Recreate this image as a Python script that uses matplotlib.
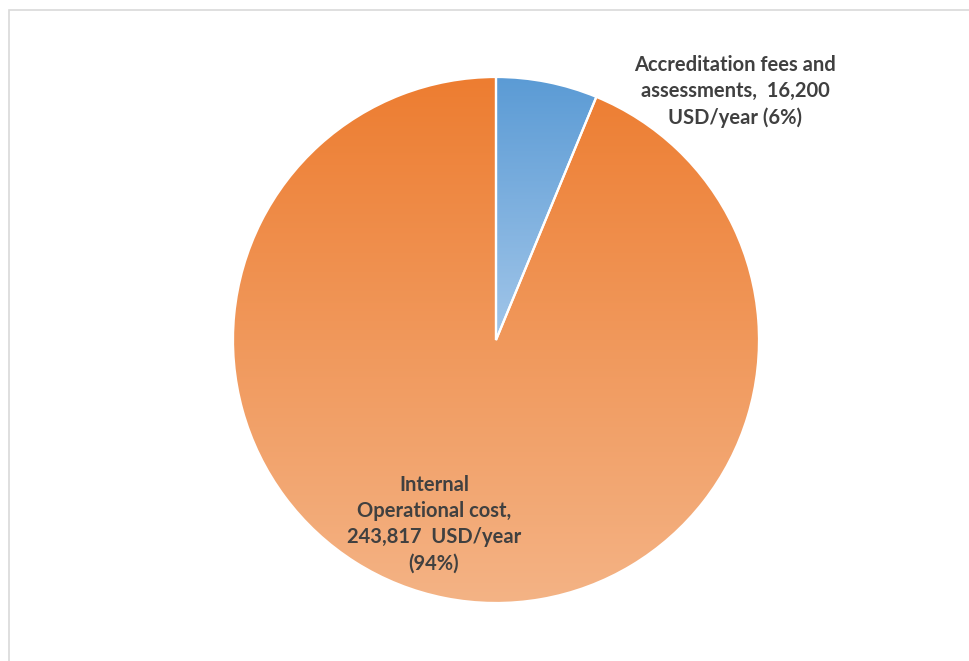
import numpy as np
import matplotlib
matplotlib.use("Agg")
import matplotlib.pyplot as plt
from matplotlib.colors import LinearSegmentedColormap
from matplotlib.patches import Rectangle

# Data
categories = ["Accreditation fees and\nassessments,  16,200\nUSD/year (6%)",
              "Internal\nOperational cost,\n243,817  USD/year\n(94%)"]
values = [16200, 243817]
# gradient colours: top -> bottom
grad_colors = [("#5B9BD5", "#A2C6E9"), ("#ED7D31", "#F4B385")]

plt.rcParams['font.family'] = ['Lato', 'DejaVu Sans']

W, H = 969, 661
fig = plt.figure(figsize=(W / 100, H / 100), dpi=100)
ax = fig.add_axes([0, 0, 1, 1])

wedges, _ = ax.pie(values, startangle=90, counterclock=False,
                   wedgeprops=dict(edgecolor="white", linewidth=1.6))

# vertical gradient inside every slice
grad = np.linspace(0, 1, 256).reshape(-1, 1)
for w, (c_top, c_bot) in zip(wedges, grad_colors):
    ext = w.get_path().get_extents()
    cmap = LinearSegmentedColormap.from_list("g", [c_top, c_bot])
    im = ax.imshow(grad, cmap=cmap, aspect="auto", origin="upper",
                   extent=[ext.x0, ext.x1, ext.y0, ext.y1], zorder=1)
    im.set_clip_path(w)
    w.set_facecolor("none")
    w.set_zorder(2)

# map the unit pie to pixel layout (center 496,340, radius 263)
cx, cy, r = 496, 340, 263
ax.set_xlim(-cx / r, (W - cx) / r)
ax.set_ylim(-(H - cy) / r, cy / r)
ax.set_aspect("auto")
ax.axis("off")

txt = dict(ha="center", va="center", fontsize=14.5, fontweight="bold",
           color="#404040", linespacing=1.38)
ax.text(0.909, 0.945, categories[0], **txt)
ax.text(-0.236, -0.70, categories[1], **txt)

# chart frame (only top and left edges visible)
fig.add_artist(Rectangle((8.5 / W, -0.1), 1.2, 1.1 - 10.5 / H,
                         transform=fig.transFigure, fill=False,
                         edgecolor="#D9D9D9", linewidth=1.2))

fig.savefig("out.png", dpi=100)
